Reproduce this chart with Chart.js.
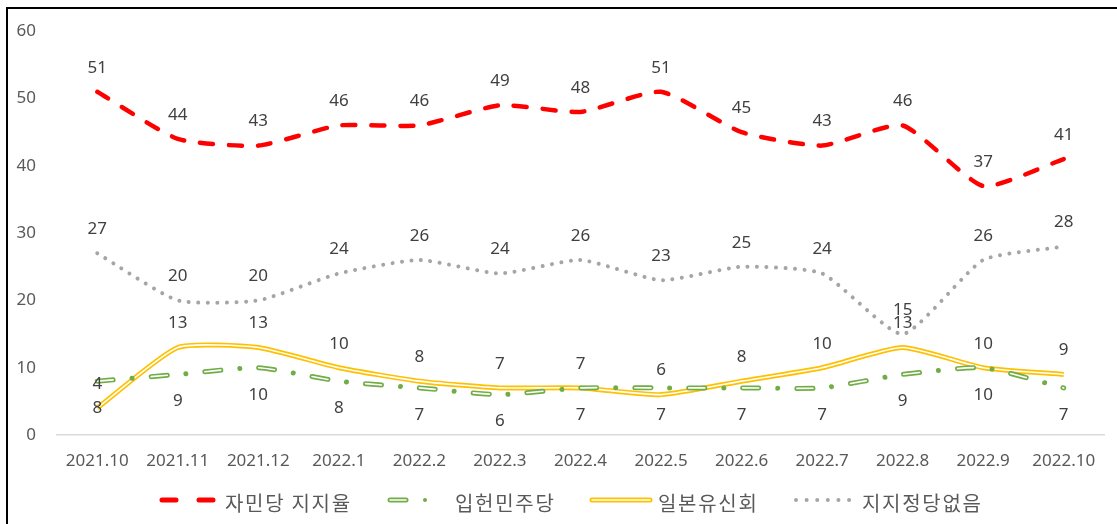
<!DOCTYPE html>
<html>
<head>
<meta charset="utf-8">
<script src="https://cdn.jsdelivr.net/npm/chart.js@4/dist/chart.umd.min.js"></script>
<style>
  html, body { margin: 0; padding: 0; background: #fff; overflow: hidden; }
  #wrap { position: relative; width: 1117px; height: 524px; }
  #frame { position: absolute; left: 6px; top: 7px; width: 1200px; height: 600px; border: 2px solid #000; box-sizing: border-box; }
  canvas { position: absolute; left: 0; top: 0; }
  .lg { position: absolute; top: 488px; height: 24px; line-height: 24px; font: 20px "Noto Sans CJK KR", sans-serif; letter-spacing: 1.7px; color: #595959; white-space: nowrap; }
  svg.sym { position: absolute; left: 0; top: 0; }
</style>
</head>
<body>
<div id="wrap">
  <div id="frame"></div>
  <canvas id="chart" width="1117" height="524"></canvas>
  <svg class="sym" width="1117" height="524">
    <line x1="162" y1="500" x2="213" y2="500" stroke="#FF0000" stroke-width="5" stroke-linecap="round" stroke-dasharray="14 23"/>
    <line x1="390" y1="500" x2="406" y2="500" stroke="#70AD47" stroke-width="5" stroke-linecap="round"/>
    <line x1="390" y1="500" x2="406" y2="500" stroke="#fff" stroke-width="1.6" stroke-linecap="round"/>
    <circle cx="425" cy="500" r="2" fill="#70AD47"/>
    <line x1="592" y1="500" x2="650" y2="500" stroke="#FFC000" stroke-width="5" stroke-linecap="round"/>
    <line x1="592" y1="500" x2="650" y2="500" stroke="#fff" stroke-width="1.6" stroke-linecap="round"/>
    <line x1="796" y1="500" x2="850" y2="500" stroke="#A5A5A5" stroke-width="4" stroke-linecap="round" stroke-dasharray="0.01 10.6"/>
  </svg>
  <div class="lg" style="left:225px">자민당 지지율</div>
  <div class="lg" style="left:455px">입헌민주당</div>
  <div class="lg" style="left:658px">일본유신회</div>
  <div class="lg" style="left:862px">지지정당없음</div>
</div>
<script>
const months = ["2021.10", "2021.11", "2021.12", "2022.1", "2022.2", "2022.3", "2022.4",
  "2022.5", "2022.6", "2022.7", "2022.8", "2022.9", "2022.10"]
const ldpSupport = [51, 44, 43, 46, 46, 49, 48, 51, 45, 43, 46, 37, 41]
const cdpSupport = [8, 9, 10, 8, 7, 6, 7, 7, 7, 7, 9, 10, 7]
const ishinSupport = [4, 13, 13, 10, 8, 7, 7, 6, 8, 10, 13, 10, 9]
const noParty = [27, 20, 20, 24, 26, 24, 26, 23, 25, 24, 15, 26, 28]
const seriesNames = ["자민당 지지율", "입헌민주당", "일본유신회", "지지정당없음"]
const yTicks = [0, 10, 20, 30, 40, 50, 60]

const textColor = "#595959"
const labelColor = "#404040"
const numFont = { family: "'Noto Sans', sans-serif", size: 17 }

// second, thinner white stroke on top of a line -> hollow/double line look
const innerStroke = {
  id: "innerStroke",
  afterDatasetDraw(chart, args) {
    const ds = chart.data.datasets[args.index]
    if (!ds.inner) return
    const el = args.meta.dataset
    const saved = el.options
    el.options = Object.assign({}, saved, ds.inner)
    chart.ctx.save()
    el.draw(chart.ctx, chart.chartArea)
    chart.ctx.restore()
    el.options = saved
  }
}

// value labels above or below each point
const valueLabels = {
  id: "valueLabels",
  afterDatasetsDraw(chart) {
    const ctx = chart.ctx
    ctx.save()
    ctx.font = numFont.size + "px " + numFont.family
    ctx.fillStyle = labelColor
    ctx.textAlign = "center"
    ctx.textBaseline = "middle"
    chart.data.datasets.forEach((ds, i) => {
      const meta = chart.getDatasetMeta(i)
      const off = ds.labelPos === "below" ? 27 : -24
      meta.data.forEach((pt, j) => {
        ctx.fillText(String(ds.data[j]), pt.x, pt.y + off)
      })
    })
    ctx.restore()
  }
}

new Chart(document.getElementById("chart"), {
  type: "line",
  data: {
    labels: months,
    datasets: [
      {
        label: seriesNames[0], data: ldpSupport, labelPos: "above",
        borderColor: "#FF0000", borderWidth: 4.5, borderDash: [13, 16], borderCapStyle: "round"
      },
      {
        label: seriesNames[1], data: cdpSupport, labelPos: "below",
        borderColor: "#70AD47", borderWidth: 5, borderDash: [16, 19, 0.01, 19], borderCapStyle: "round",
        inner: { borderColor: "#ffffff", borderWidth: 1.6, borderDash: [16, 38.01], borderCapStyle: "round" }
      },
      {
        label: seriesNames[2], data: ishinSupport, labelPos: "above",
        borderColor: "#FFC000", borderWidth: 5,
        inner: { borderColor: "#ffffff", borderWidth: 1.6 }
      },
      {
        label: seriesNames[3], data: noParty, labelPos: "above",
        borderColor: "#A5A5A5", borderWidth: 4, borderDash: [0.01, 9.5], borderCapStyle: "round"
      }
    ]
  },
  options: {
    responsive: false,
    animation: false,
    events: [],
    devicePixelRatio: 1,
    layout: { padding: { left: 10, right: 13, top: 27, bottom: 49 } },
    elements: {
      point: { radius: 0 },
      line: { tension: 0.18, fill: false }
    },
    plugins: { legend: { display: false }, tooltip: { enabled: false } },
    scales: {
      x: {
        offset: true,
        grid: { display: false, drawTicks: false },
        border: { display: true, color: "#D9D9D9", width: 1.5 },
        ticks: { color: textColor, font: numFont, padding: 16, maxRotation: 0, autoSkip: false },
        afterFit(scale) { scale.height = 40 }
      },
      y: {
        min: 0, max: 60,
        grid: { display: false, drawTicks: false },
        border: { display: false },
        afterBuildTicks(scale) { scale.ticks = yTicks.map(v => ({ value: v })) },
        ticks: { color: textColor, font: numFont, padding: 21 },
        afterFit(scale) { scale.width = 47 }
      }
    }
  },
  plugins: [innerStroke, valueLabels]
})
</script>
</body>
</html>
